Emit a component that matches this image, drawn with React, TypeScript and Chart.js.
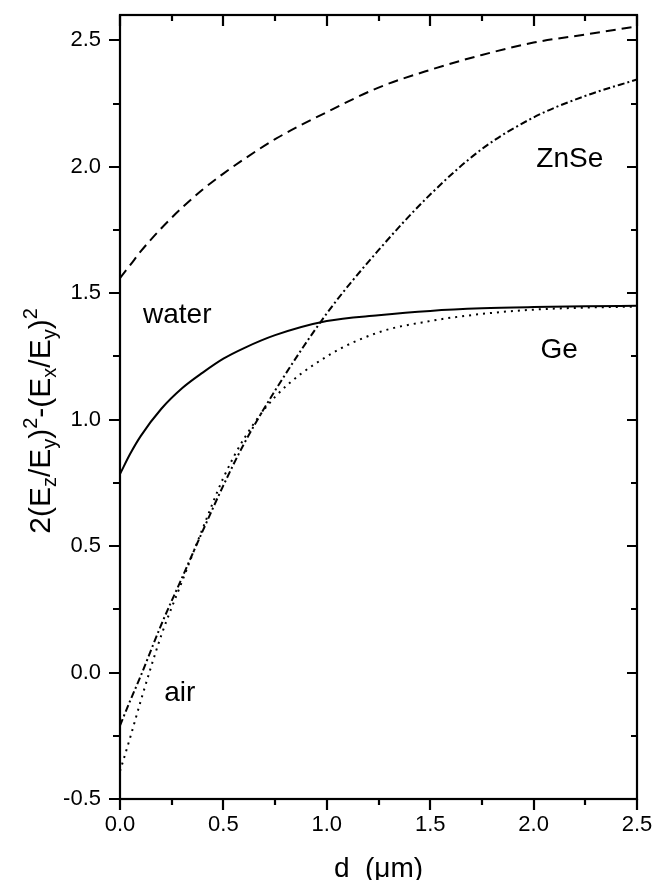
import React, { useEffect, useRef } from "react";
import { Chart, registerables } from "chart.js";

Chart.register(...registerables);

// thickness d (µm)
const dValues = [0, 0.05, 0.1, 0.2, 0.3, 0.4, 0.5, 0.6, 0.75, 1.0, 1.25, 1.5, 1.75, 2.0, 2.25, 2.5];
// ZnSe, water (dashed)
const znseWater = [1.56, 1.612, 1.665, 1.757, 1.838, 1.91, 1.973, 2.03, 2.109, 2.216, 2.313, 2.383, 2.442, 2.491, 2.523, 2.555];
// ZnSe, air (dash-dot)
const znseAir = [-0.21, -0.11, -0.014, 0.19, 0.375, 0.56, 0.74, 0.905, 1.115, 1.42, 1.67, 1.89, 2.07, 2.195, 2.28, 2.345];
// Ge, water (solid)
const geWater = [0.785, 0.866, 0.935, 1.043, 1.124, 1.186, 1.241, 1.283, 1.334, 1.39, 1.413, 1.43, 1.44, 1.445, 1.448, 1.45];
// Ge, air (dotted)
const geAir = [-0.39, -0.255, -0.113, 0.148, 0.36, 0.57, 0.77, 0.925, 1.09, 1.25, 1.345, 1.39, 1.418, 1.435, 1.443, 1.447];

const xTickValues = [0, 0.5, 1.0, 1.5, 2.0, 2.5];
const yTickValues = [-0.5, 0, 0.5, 1.0, 1.5, 2.0, 2.5];
const minorStep = 0.25;

const annotationTexts = ["water", "ZnSe", "Ge", "air"];
const annotationX = [0.277, 2.175, 2.124, 0.289];
const annotationY = [1.381, 1.998, 1.243, -0.113];

const FONT = "'Liberation Sans', Arial, Helvetica, sans-serif";

const yTitleSegments: { t: string; k: "n" | "sub" | "sup" }[] = [
  { t: "2(E", k: "n" },
  { t: "z", k: "sub" },
  { t: "/E", k: "n" },
  { t: "y", k: "sub" },
  { t: ")", k: "n" },
  { t: "2", k: "sup" },
  { t: "-(E", k: "n" },
  { t: "x", k: "sub" },
  { t: "/E", k: "n" },
  { t: "y", k: "sub" },
  { t: ")", k: "n" },
  { t: "2", k: "sup" },
];

const decorPlugin = {
  id: "decor",
  afterDraw(chart: any) {
    const { ctx, chartArea: a, scales } = chart;
    const xs = scales.x;
    const ys = scales.y;
    ctx.save();
    ctx.strokeStyle = "#000";
    ctx.fillStyle = "#000";
    ctx.lineWidth = 2.2;
    ctx.strokeRect(a.left, a.top, a.right - a.left, a.bottom - a.top);

    ctx.beginPath();
    const xMin = xs.min, xMax = xs.max;
    const nx = Math.round((xMax - xMin) / minorStep);
    for (let i = 0; i <= nx; i++) {
      const v = xMin + i * minorStep;
      const major = i % 2 === 0;
      const px = Math.round(xs.getPixelForValue(v));
      ctx.moveTo(px, a.bottom);
      ctx.lineTo(px, a.bottom + (major ? 11 : 6));
      ctx.moveTo(px, a.top);
      ctx.lineTo(px, a.top + (major ? 11 : 6));
    }
    const yStart = yTickValues[0];
    const ny = Math.round((yTickValues[yTickValues.length - 1] - yStart) / minorStep);
    for (let i = 0; i <= ny; i++) {
      const v = yStart + i * minorStep;
      const major = i % 2 === 0;
      const py = Math.round(ys.getPixelForValue(v));
      ctx.moveTo(a.left, py);
      ctx.lineTo(a.left - (major ? 11 : 7), py);
      ctx.moveTo(a.right, py);
      ctx.lineTo(a.right - (major ? 10 : 6), py);
    }
    ctx.stroke();

    // annotations
    ctx.font = `28px ${FONT}`;
    ctx.textAlign = "center";
    ctx.textBaseline = "alphabetic";
    annotationTexts.forEach((t, i) => {
      ctx.fillText(t, xs.getPixelForValue(annotationX[i]), ys.getPixelForValue(annotationY[i]));
    });

    // x title
    ctx.font = `28px ${FONT}`;
    ctx.fillText("d  (\u03bcm)", (a.left + a.right) / 2, 877);

    // y title (rotated, with sub/superscripts)
    const mainSize = 30;
    const smallSize = 20;
    const widths = yTitleSegments.map((s) => {
      ctx.font = `${s.k === "n" ? mainSize : smallSize}px ${FONT}`;
      return ctx.measureText(s.t).width;
    });
    const total = widths.reduce((p, c) => p + c, 0);
    ctx.translate(50, 421);
    ctx.rotate(-Math.PI / 2);
    ctx.textAlign = "left";
    let cx = -total / 2;
    yTitleSegments.forEach((s, i) => {
      ctx.font = `${s.k === "n" ? mainSize : smallSize}px ${FONT}`;
      const dy = s.k === "sub" ? 6 : s.k === "sup" ? -13 : 0;
      ctx.fillText(s.t, cx, dy);
      cx += widths[i];
    });
    ctx.restore();
  },
};

function mkData(ys: number[]) {
  return dValues.map((d, i) => ({ x: d, y: ys[i] }));
}

function zeroPadding(s: any) {
  s.paddingTop = 0;
  s.paddingBottom = 0;
  s.paddingLeft = 0;
  s.paddingRight = 0;
}

export default function App() {
  const ref = useRef<HTMLCanvasElement | null>(null);
  useEffect(() => {
    document.body.style.margin = "0";
    const canvas = ref.current;
    if (!canvas) return;
    const common = {
      borderColor: "#000",
      borderWidth: 2,
      pointRadius: 0,
      fill: false,
      cubicInterpolationMode: "monotone" as const,
    };
    const chart = new Chart(canvas, {
      type: "line",
      data: {
        datasets: [
          { ...common, label: "ZnSe water", data: mkData(znseWater), borderDash: [10, 6] },
          { ...common, label: "ZnSe air", data: mkData(znseAir), borderDash: [7, 3, 2, 3] },
          { ...common, label: "Ge water", data: mkData(geWater) },
          { ...common, label: "Ge air", data: mkData(geAir), borderDash: [2, 5] },
        ],
      },
      options: {
        responsive: false,
        animation: false,
        devicePixelRatio: 1,
        layout: { padding: { left: 0, right: 19, top: 15, bottom: 0 } },
        plugins: { legend: { display: false }, tooltip: { enabled: false } },
        scales: {
          x: {
            type: "linear",
            min: 0,
            max: 2.5,
            afterFit: (s: any) => {
              s.height = 81;
              zeroPadding(s);
            },
            afterBuildTicks: (s: any) => {
              s.ticks = xTickValues.map((v) => ({ value: v }));
            },
            grid: { display: false, drawTicks: false },
            border: { display: false },
            ticks: {
              color: "#000",
              padding: 13,
              maxRotation: 0,
              autoSkip: false,
              font: { size: 22, family: FONT },
              callback: (v: any) => Number(v).toFixed(1),
            },
          },
          y: {
            type: "linear",
            min: -0.5,
            max: 2.6,
            afterFit: (s: any) => {
              s.width = 120;
              zeroPadding(s);
            },
            afterBuildTicks: (s: any) => {
              s.ticks = yTickValues.map((v) => ({ value: v }));
            },
            grid: { display: false, drawTicks: false },
            border: { display: false },
            ticks: {
              color: "#000",
              padding: 19,
              autoSkip: false,
              font: { size: 22, family: FONT },
              callback: (v: any) => Number(v).toFixed(1),
            },
          },
        },
      },
      plugins: [decorPlugin],
    });
    return () => chart.destroy();
  }, []);
  return (
    <div style={{ width: 656, height: 880 }}>
      <canvas ref={ref} width={656} height={880} style={{ display: "block" }} />
    </div>
  );
}
